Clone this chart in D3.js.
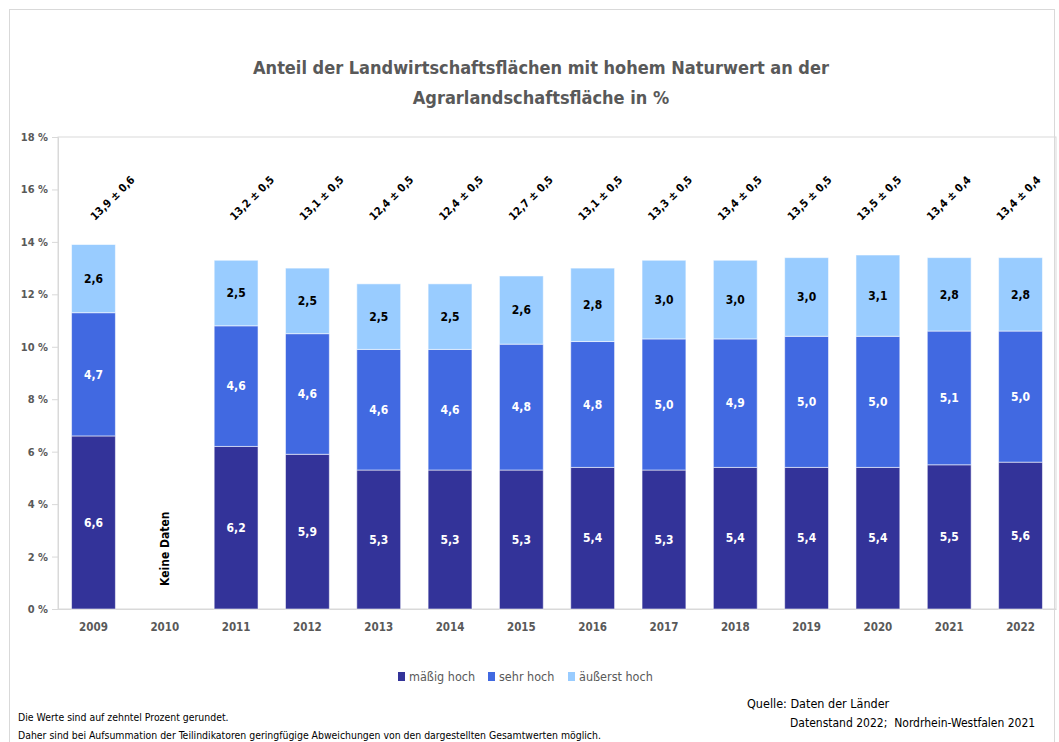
<!DOCTYPE html>
<html>
<head>
<meta charset="utf-8">
<script src="https://cdn.jsdelivr.net/npm/d3@7"></script>
<style>
  body { margin: 0; background: #fff; }
  svg text { font-family: "Liberation Sans Narrow", "DejaVu Sans Condensed", sans-serif; }
</style>
</head>
<body>
<div id="chart"></div>
<script>
// values (percent, rounded to tenths)
const years = ["2009", "2010", "2011", "2012", "2013", "2014", "2015", "2016", "2017", "2018", "2019", "2020", "2021", "2022"];
const maessigHoch = [6.6, null, 6.2, 5.9, 5.3, 5.3, 5.3, 5.4, 5.3, 5.4, 5.4, 5.4, 5.5, 5.6];
const sehrHoch = [4.7, null, 4.6, 4.6, 4.6, 4.6, 4.8, 4.8, 5.0, 4.9, 5.0, 5.0, 5.1, 5.0];
const aeussertHoch = [2.6, null, 2.5, 2.5, 2.5, 2.5, 2.6, 2.8, 3.0, 3.0, 3.0, 3.1, 2.8, 2.8];
const totalLabels = ["13,9 ± 0,6", null, "13,2 ± 0,5", "13,1 ± 0,5", "12,4 ± 0,5", "12,4 ± 0,5", "12,7 ± 0,5",
  "13,1 ± 0,5", "13,3 ± 0,5", "13,4 ± 0,5", "13,5 ± 0,5", "13,5 ± 0,5", "13,4 ± 0,4", "13,4 ± 0,4"];
const yTicks = [0, 2, 4, 6, 8, 10, 12, 14, 16, 18];
const seriesNames = ["mäßig hoch", "sehr hoch", "äußerst hoch"];
const seriesColors = ["#333399", "#4169e1", "#99ccff"];
const labelColors = ["#ffffff", "#ffffff", "#000000"];

const W = 1059, H = 742;
const margin = {top: 137, right: 3, bottom: 133, left: 58};
const width = W - margin.left - margin.right,
      height = H - margin.top - margin.bottom;

const fmt = v => v.toFixed(1).replace(".", ",");

const svg = d3.select("#chart").append("svg")
    .attr("width", W)
    .attr("height", H);

// outer frame
svg.append("rect")
    .attr("x", 9.5).attr("y", 9.5)
    .attr("width", W - 14).attr("height", H)
    .attr("fill", "none")
    .attr("stroke", "#d9d9d9");

// title
svg.append("text")
    .attr("x", 541).attr("y", 74)
    .attr("text-anchor", "middle")
    .style("font-size", "18px").style("font-weight", "bold")
    .attr("fill", "#595959")
    .text("Anteil der Landwirtschaftsflächen mit hohem Naturwert an der");
svg.append("text")
    .attr("x", 541).attr("y", 104)
    .attr("text-anchor", "middle")
    .style("font-size", "18px").style("font-weight", "bold")
    .attr("fill", "#595959")
    .text("Agrarlandschaftsfläche in %");

const g = svg.append("g")
    .attr("transform", `translate(${margin.left},${margin.top})`);

const x = d3.scaleBand()
    .domain(years)
    .range([0, width])
    .paddingInner(0.385)
    .paddingOuter(0.19);

const y = d3.scaleLinear()
    .domain([0, 18])
    .range([height, 0]);

// plot area border
g.append("rect")
    .attr("x", 0).attr("y", 0)
    .attr("width", width).attr("height", height)
    .attr("fill", "none")
    .attr("stroke", "#d9d9d9");

// y axis
const yAxis = g.append("g")
    .call(d3.axisLeft(y).tickValues(yTicks).tickSize(6).tickPadding(4)
        .tickFormat(d => d + " %"));
yAxis.select(".domain").attr("stroke", "#d9d9d9");
yAxis.selectAll(".tick line").attr("stroke", "#d9d9d9");
yAxis.selectAll(".tick text")
    .attr("fill", "#595959")
    .style("font-size", "11px")
    .style("font-weight", "bold");

// x axis
const xAxis = g.append("g")
    .attr("transform", `translate(0,${height})`)
    .call(d3.axisBottom(x).tickSize(0).tickPadding(14));
xAxis.select(".domain").attr("stroke", "#d9d9d9");
xAxis.selectAll(".tick text")
    .attr("fill", "#595959")
    .style("font-size", "11.5px")
    .style("font-weight", "bold");

// stacked data
const rows = years.map((yr, i) => ({
    year: yr,
    vals: [maessigHoch[i], sehrHoch[i], aeussertHoch[i]]
})).filter(d => d.vals[0] != null);

const segs = [];
rows.forEach(r => {
    let base = 0;
    r.vals.forEach((v, k) => {
        segs.push({year: r.year, k: k, y0: base, y1: base + v, v: v});
        base += v;
    });
});

g.selectAll("rect.seg")
    .data(segs)
    .join("rect")
    .attr("class", "seg")
    .attr("x", d => x(d.year))
    .attr("width", x.bandwidth())
    .attr("y", d => y(d.y1))
    .attr("height", d => y(d.y0) - y(d.y1))
    .attr("fill", d => seriesColors[d.k])
    .attr("stroke", "#ffffff")
    .attr("stroke-opacity", 0.55)
    .attr("stroke-width", 1);

g.selectAll("text.seglabel")
    .data(segs)
    .join("text")
    .attr("class", "seglabel")
    .attr("x", d => x(d.year) + x.bandwidth() / 2)
    .attr("y", d => y((d.y0 + d.y1) / 2))
    .attr("dy", "0.35em")
    .attr("text-anchor", "middle")
    .attr("fill", d => labelColors[d.k])
    .style("font-size", "12px")
    .style("font-weight", "bold")
    .text(d => fmt(d.v));

// "Keine Daten" for 2010
const noData = years.filter((yr, i) => maessigHoch[i] == null);
g.selectAll("text.nodata")
    .data(noData)
    .join("text")
    .attr("class", "nodata")
    .attr("transform", d => `translate(${x(d) + x.bandwidth() / 2},${y(2.3)}) rotate(-90)`)
    .attr("text-anchor", "middle")
    .attr("dy", "0.35em")
    .attr("fill", "#000")
    .style("font-size", "12px")
    .style("font-weight", "bold")
    .text("Keine Daten");

// total labels (text boxes sit on a slightly narrower spacing than the bars)
const xl = d3.scalePoint()
    .domain(years)
    .range([92 - margin.left, 998 - margin.left]);

g.selectAll("text.total")
    .data(years.map((yr, i) => ({year: yr, t: totalLabels[i]})).filter(d => d.t))
    .join("text")
    .attr("class", "total")
    .attr("transform", d => `translate(${xl(d.year) + 3},${y(14.8)}) rotate(-45)`)
    .attr("text-anchor", "start")
    .attr("fill", "#000")
    .style("font-size", "11px")
    .style("font-weight", "bold")
    .text(d => d.t);

// legend
const legendX = [398, 488, 568];
const legend = svg.append("g")
    .selectAll("g")
    .data(seriesNames)
    .join("g")
    .attr("transform", (d, i) => `translate(${legendX[i]},677)`);
legend.append("rect")
    .attr("x", 0).attr("y", -5)
    .attr("width", 7).attr("height", 9)
    .attr("fill", (d, i) => seriesColors[i]);
legend.append("text")
    .attr("x", 11).attr("dy", "0.35em")
    .attr("fill", "#595959")
    .style("font-size", "12.5px")
    .text(d => d);

// footer
svg.append("text")
    .attr("x", 747).attr("y", 708)
    .attr("fill", "#000")
    .style("font-size", "12.5px")
    .text("Quelle: Daten der Länder");
svg.append("text")
    .attr("x", 790).attr("y", 727)
    .attr("fill", "#000")
    .style("font-size", "12px")
    .style("white-space", "pre")
    .text("Datenstand 2022;  Nordrhein-Westfalen 2021");
svg.append("text")
    .attr("x", 18).attr("y", 721)
    .attr("fill", "#000")
    .style("font-size", "10.4px")
    .text("Die Werte sind auf zehntel Prozent gerundet.");
svg.append("text")
    .attr("x", 18).attr("y", 739)
    .attr("fill", "#000")
    .style("font-size", "10.4px")
    .text("Daher sind bei Aufsummation der Teilindikatoren geringfügige Abweichungen von den dargestellten Gesamtwerten möglich.");
</script>
</body>
</html>
